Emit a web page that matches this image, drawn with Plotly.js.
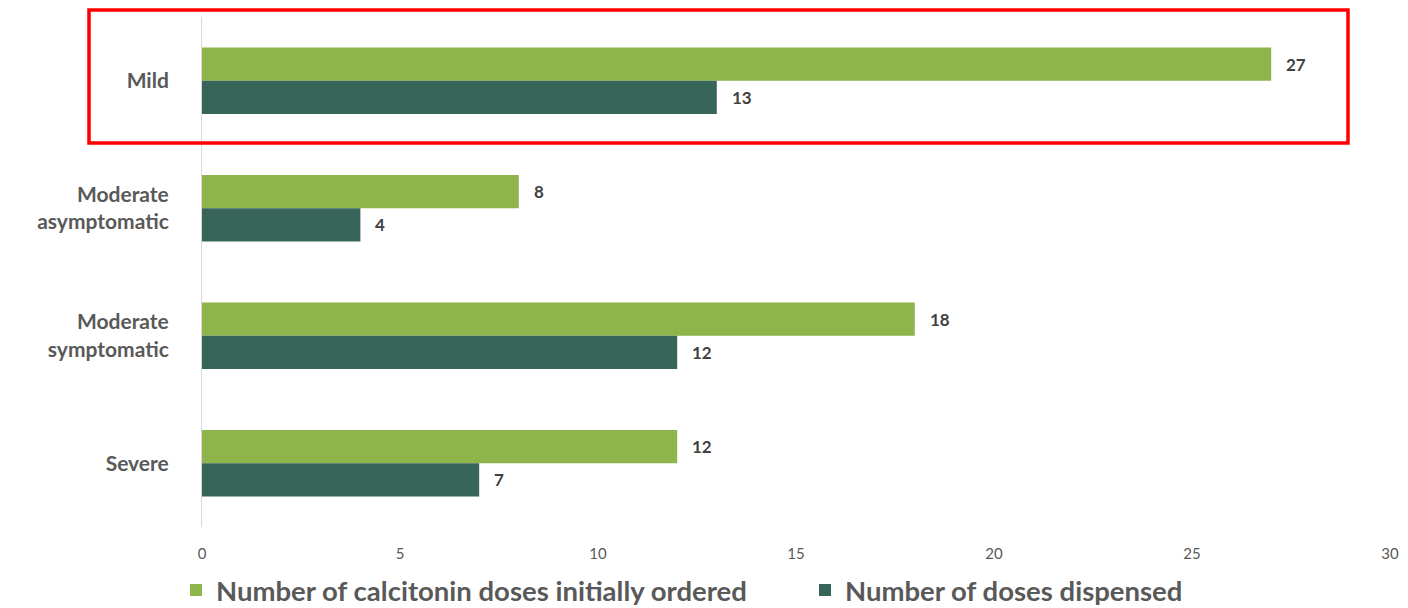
<!DOCTYPE html>
<html>
<head>
<meta charset="utf-8">
<script src="https://cdn.plot.ly/plotly-3.0.1.min.js"></script>
<style>html,body{margin:0;padding:0;background:#fff;}#chart{width:1408px;height:608px;}</style>
</head>
<body>
<div id="chart"></div>
<script>
const categories = ["Mild", "Moderate<br>asymptomatic", "Moderate<br>symptomatic", "Severe"];
const ordered = [27, 8, 18, 12];
const dispensed = [13, 4, 12, 7];
const seriesNames = ["Number of calcitonin doses initially ordered", "Number of doses dispensed"];
const xTicks = [0, 5, 10, 15, 20, 25, 30];

const labelFont = {family: "Lato, 'Open Sans', sans-serif", size: 17, color: "#404040", weight: 700};
const legendFont = {family: "Lato, 'Open Sans', sans-serif", size: 27.5, color: "#595959", weight: 700};

const traces = [
  {type: "bar", orientation: "h", name: seriesNames[0], y: categories, x: ordered,
   marker: {color: "#8DB54B"}, hoverinfo: "x", legend: "legend"},
  {type: "bar", orientation: "h", name: seriesNames[1], y: categories, x: dispensed,
   marker: {color: "#37655A"}, hoverinfo: "x", legend: "legend2"}
];

const annotations = [];
categories.forEach((c, i) => {
  annotations.push({x: ordered[i], y: c, text: String(ordered[i]), showarrow: false,
    xanchor: "left", xshift: 13, yshift: 16.5, font: labelFont});
  annotations.push({x: dispensed[i], y: c, text: String(dispensed[i]), showarrow: false,
    xanchor: "left", xshift: 13, yshift: -16.5, font: labelFont});
});

const layout = {
  width: 1408, height: 608,
  margin: {l: 202, r: 18, t: 17, b: 81, autoexpand: false},
  paper_bgcolor: "#fff", plot_bgcolor: "#fff",
  barmode: "group", bargap: 0.48, bargroupgap: 0,
  showlegend: true,
  legend: {orientation: "h", xref: "container", yref: "container",
    x: 176 / 1408, xanchor: "left", y: (608 - 590) / 608, yanchor: "middle",
    bgcolor: "rgba(0,0,0,0)", font: legendFont},
  legend2: {orientation: "h", xref: "container", yref: "container",
    x: 805 / 1408, xanchor: "left", y: (608 - 590) / 608, yanchor: "middle",
    bgcolor: "rgba(0,0,0,0)", font: legendFont},
  xaxis: {range: [0, 30], tickvals: xTicks, showgrid: false, zeroline: false, showline: false,
    ticks: "", ticklabelstandoff: 16, automargin: false,
    tickfont: {family: "Lato, 'Open Sans', sans-serif", size: 15, color: "#595959"}},
  yaxis: {autorange: "reversed", showgrid: false, zeroline: false, showline: true,
    linecolor: "#d9d9d9", linewidth: 1, ticks: "", ticklabelstandoff: 28, automargin: false,
    tickfont: {family: "Lato, 'Open Sans', sans-serif", size: 21, color: "#595959", weight: 700}},
  annotations: annotations,
  shapes: [{type: "rect", xref: "paper", yref: "paper",
    x0: (89 - 202) / 1188, x1: (1348 - 202) / 1188,
    y0: (527 - 143) / 510, y1: (527 - 10) / 510,
    line: {color: "#FF0000", width: 3.5}, fillcolor: "rgba(0,0,0,0)"}]
};

Plotly.newPlot("chart", traces, layout, {displayModeBar: false, staticPlot: true});
</script>
</body>
</html>
